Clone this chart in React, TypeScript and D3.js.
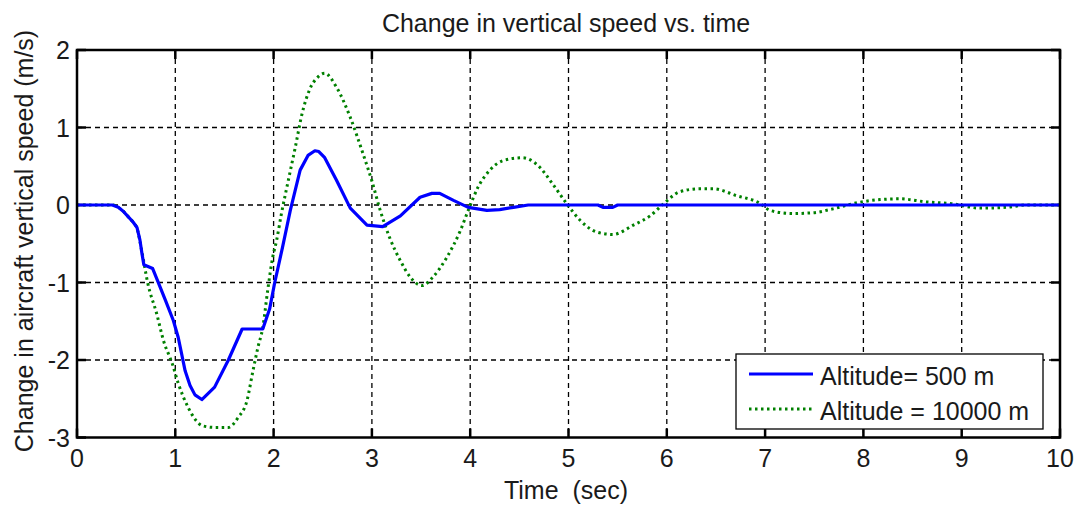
import React from "react";
import * as d3 from "d3";

const xTicks = [0, 1, 2, 3, 4, 5, 6, 7, 8, 9, 10];
const yTicks = [-3, -2, -1, 0, 1, 2];

const blueT = [0, 0.36, 0.42, 0.47, 0.52, 0.57, 0.61, 0.64, 0.66, 0.68, 0.77, 0.9, 0.98, 1.03, 1.1, 1.15, 1.2, 1.27, 1.4, 1.54, 1.68, 1.89, 1.96, 2.01, 2.09, 2.17, 2.27, 2.35, 2.42, 2.46, 2.52, 2.64, 2.78, 2.95, 3.11, 3.29, 3.49, 3.61, 3.69, 3.83, 3.98, 4.17, 4.3, 4.44, 4.59, 5.3, 5.35, 5.45, 5.5, 10];
const blueV = [0, 0, -0.03, -0.08, -0.15, -0.22, -0.29, -0.45, -0.62, -0.77, -0.82, -1.23, -1.49, -1.71, -2.14, -2.33, -2.45, -2.51, -2.35, -2.0, -1.6, -1.6, -1.34, -1.01, -0.55, -0.07, 0.45, 0.64, 0.7, 0.69, 0.61, 0.32, -0.04, -0.26, -0.28, -0.14, 0.1, 0.15, 0.15, 0.06, -0.03, -0.07, -0.06, -0.03, 0, 0, -0.03, -0.03, 0, 0];

const greenT = [0, 0.36, 0.42, 0.47, 0.52, 0.57, 0.61, 0.66, 0.72, 0.81, 0.88, 0.97, 1.03, 1.13, 1.28, 1.4, 1.54, 1.64, 1.73, 1.79, 1.84, 1.89, 1.94, 1.99, 2.03, 2.08, 2.15, 2.22, 2.29, 2.37, 2.45, 2.52, 2.64, 2.78, 2.91, 3.0, 3.08, 3.18, 3.29, 3.39, 3.51, 3.62, 3.76, 3.9, 3.98, 4.08, 4.2, 4.33, 4.53, 4.69, 4.84, 4.98, 5.12, 5.29, 5.45, 5.66, 5.83, 5.98, 6.13, 6.34, 6.47, 6.71, 6.95, 7.05, 7.28, 7.49, 7.69, 7.94, 8.17, 8.37, 8.64, 8.88, 9.19, 9.46, 9.66, 10];
const greenV = [0, 0, -0.03, -0.08, -0.15, -0.22, -0.3, -0.6, -1.01, -1.4, -1.75, -2.05, -2.3, -2.61, -2.85, -2.87, -2.87, -2.74, -2.52, -2.14, -1.84, -1.58, -1.1, -0.68, -0.46, -0.11, 0.32, 0.74, 1.18, 1.5, 1.65, 1.7, 1.52, 1.13, 0.66, 0.31, -0.05, -0.42, -0.72, -0.93, -1.04, -0.93, -0.68, -0.33, -0.07, 0.23, 0.45, 0.57, 0.61, 0.51, 0.27, 0.02, -0.2, -0.35, -0.38, -0.26, -0.14, 0.03, 0.17, 0.21, 0.21, 0.12, 0.02, -0.07, -0.11, -0.1, -0.05, 0.03, 0.07, 0.08, 0.04, 0.02, -0.04, -0.03, 0, 0];

const seriesLabels = ["Altitude= 500 m", "Altitude = 10000 m"];
const titleText = "Change in vertical speed vs. time";
const xLabel = "Time  (sec)";
const yLabel = "Change in aircraft vertical speed (m/s)";

const W = 1077, H = 506;
const L = 77, R = 1060, T = 50, B = 437.5;
const FONT = "'Liberation Sans', Arial, sans-serif";

export default function App() {
  const x = d3.scaleLinear().domain([0, 10]).range([L, R]);
  const y = d3.scaleLinear().domain([-3, 2]).range([B, T]);
  const blue = blueT.map((t, i) => [t, blueV[i]] as [number, number]);
  const green = greenT.map((t, i) => [t, greenV[i]] as [number, number]);
  const lineLin = d3.line<[number, number]>().x(d => x(d[0])).y(d => y(d[1]));
  const lineSmooth = d3.line<[number, number]>().x(d => x(d[0])).y(d => y(d[1])).curve(d3.curveMonotoneX);
  const tl = 9;
  const txt = "#1a1a1a";
  return (
    <svg width={W} height={H} style={{ position: "absolute", left: 0, top: 0, background: "#fff" }} fontFamily={FONT}>
      <rect x={0} y={0} width={W} height={H} fill="#fff" />
      {/* grid */}
      {xTicks.slice(1, -1).map(t => (
        <line key={"gx" + t} x1={x(t)} x2={x(t)} y1={T} y2={B} stroke="#000" strokeWidth={1.3} strokeDasharray="5,4" />
      ))}
      {yTicks.slice(1, -1).map(t => (
        <line key={"gy" + t} x1={L} x2={R} y1={y(t)} y2={y(t)} stroke="#000" strokeWidth={1.3} strokeDasharray="5,4" />
      ))}
      {/* ticks */}
      {xTicks.map(t => (
        <g key={"tx" + t}>
          <line x1={x(t)} x2={x(t)} y1={B} y2={B - tl} stroke="#000" strokeWidth={2.5} />
          <line x1={x(t)} x2={x(t)} y1={T} y2={T + tl} stroke="#000" strokeWidth={2.5} />
          <text x={x(t)} y={467} textAnchor="middle" fontSize={25} fill={txt}>{t}</text>
        </g>
      ))}
      {yTicks.map(t => (
        <g key={"ty" + t}>
          <line x1={L} x2={L + tl} y1={y(t)} y2={y(t)} stroke="#000" strokeWidth={2.5} />
          <line x1={R} x2={R - tl} y1={y(t)} y2={y(t)} stroke="#000" strokeWidth={2.5} />
          <text x={70} y={y(t) + 9} textAnchor="end" fontSize={25} fill={txt}>{t}</text>
        </g>
      ))}
      {/* data */}
      <path d={lineSmooth(green) || ""} fill="none" stroke="#008000" strokeWidth={3} strokeDasharray="2.5,3.5" />
      <path d={lineLin(blue) || ""} fill="none" stroke="#0000ff" strokeWidth={3.2} strokeLinejoin="round" />
      {/* frame */}
      <rect x={L} y={T} width={R - L} height={B - T} fill="none" stroke="#000" strokeWidth={2.5} />
      {/* legend */}
      <rect x={736} y={354} width={307} height={75} fill="#fff" stroke="#000" strokeWidth={1.3} />
      <line x1={749} x2={813} y1={374} y2={374} stroke="#0000ff" strokeWidth={3.2} />
      <line x1={749} x2={813} y1={409} y2={409} stroke="#008000" strokeWidth={3} strokeDasharray="2.5,3.5" />
      <text x={820} y={385} fontSize={25} fill={txt}>{seriesLabels[0]}</text>
      <text x={820} y={420} fontSize={25} fill={txt}>{seriesLabels[1]}</text>
      {/* titles */}
      <text x={566} y={32} textAnchor="middle" fontSize={25} fill={txt}>{titleText}</text>
      <text x={566} y={499} textAnchor="middle" fontSize={25} fill={txt} style={{ whiteSpace: "pre" }}>{xLabel}</text>
      <text transform="translate(33,241) rotate(-90)" textAnchor="middle" fontSize={25} fill={txt}>{yLabel}</text>
    </svg>
  );
}
